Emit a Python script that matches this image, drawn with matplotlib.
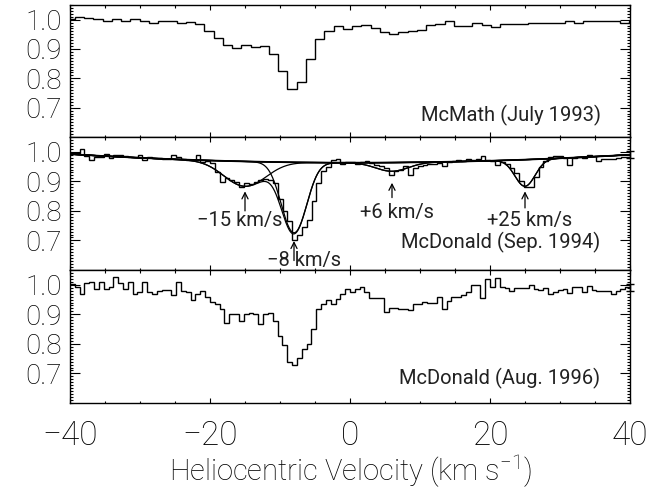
import numpy as np
import matplotlib.pyplot as plt
from matplotlib.ticker import MultipleLocator, FixedLocator

plt.rcParams['font.family'] = ['Roboto', 'DejaVu Sans']
plt.rcParams['font.weight'] = 'light'
plt.rcParams['axes.labelweight'] = 'light'
plt.rcParams['mathtext.default'] = 'regular'

# McMath, July 1993 (1.32 km/s bins)
mcmath_start = -40.61
mcmath_width = 1.32
mcmath_flux = [
    1.003, 1.008, 1.005, 1.002, 0.997, 1.003, 0.995, 1.001, 0.996, 0.988,
    0.994, 0.994, 0.988, 0.992, 0.985, 0.960, 0.936, 0.914, 0.902, 0.914,
    0.906, 0.910, 0.884, 0.824, 0.762, 0.786, 0.866, 0.934, 0.960, 0.977,
    0.969, 0.980, 0.982, 0.971, 0.958, 0.951, 0.958, 0.962, 0.966, 0.982,
    0.985, 0.994, 0.977, 0.977, 0.988, 0.982, 0.975, 0.986, 0.986, 0.986,
    0.988, 0.988, 0.988, 0.988, 0.994, 0.990, 0.997, 0.995, 0.994, 0.994,
    0.990, 0.997,
]

# McDonald, Sep. 1994 (0.69 km/s bins)
mcd94_start = -40.0
mcd94_width = 0.69
mcd94_flux = [
    0.996, 0.996, 1.009, 0.985, 0.971, 0.982, 0.982, 0.993, 0.979, 0.990,
    0.990, 0.987, 0.984, 0.984, 0.990, 0.971, 0.984, 0.979, 0.979, 0.975,
    0.975, 0.988, 0.982, 0.975, 0.971, 0.971, 0.990, 0.964, 0.968, 0.962,
    0.930, 0.898, 0.912, 0.905, 0.897, 0.882, 0.893, 0.890, 0.897, 0.905,
    0.908, 0.905, 0.893, 0.840, 0.800, 0.765, 0.703, 0.720, 0.745, 0.770,
    0.835, 0.895, 0.935, 0.950, 0.972, 0.975, 0.960, 0.964, 0.964, 0.960,
    0.964, 0.968, 0.962, 0.956, 0.953, 0.945, 0.923, 0.934, 0.937, 0.953,
    0.923, 0.945, 0.951, 0.956, 0.960, 0.960, 0.962, 0.953, 0.964, 0.968,
    0.971, 0.968, 0.975, 0.971, 0.975, 0.987, 0.971, 0.968, 0.956, 0.964,
    0.960, 0.945, 0.928, 0.900, 0.881, 0.881, 0.915, 0.950, 0.968, 0.982,
    0.987, 0.987, 0.979, 0.956, 0.979, 0.982, 0.979, 0.990, 0.987, 0.968,
    0.975, 0.975, 0.975, 0.979, 0.982, 0.984,
]

# McDonald, Aug. 1996 (0.69 km/s bins)
mcd96_start = -40.02
mcd96_width = 0.69
mcd96_flux = [
    1.002, 0.991, 0.970, 1.005, 1.011, 0.985, 1.011, 0.985, 0.993, 1.025,
    1.005, 0.985, 1.011, 0.968, 0.974, 1.011, 0.974, 0.968, 0.980, 0.983,
    0.983, 0.966, 1.011, 0.980, 0.974, 0.948, 0.970, 0.980, 0.957, 0.943,
    0.936, 0.917, 0.872, 0.900, 0.900, 0.877, 0.900, 0.906, 0.902, 0.866,
    0.902, 0.906, 0.877, 0.826, 0.795, 0.739, 0.727, 0.752, 0.784, 0.798,
    0.849, 0.917, 0.936, 0.948, 0.934, 0.951, 0.970, 0.985, 0.974,
    0.985, 0.991, 0.974, 0.955, 0.955, 0.955, 0.909, 0.923, 0.923, 0.917,
    0.917, 0.914, 0.934, 0.934, 0.943, 0.940, 0.940, 0.957, 0.917, 0.945,
    0.959, 0.959, 0.966, 0.974, 1.000, 0.998, 0.955, 1.019, 0.991, 1.023,
    0.993, 0.990, 0.980, 0.988, 0.988, 0.988, 1.000, 0.985, 0.982, 0.988,
    0.968, 0.977, 0.982, 0.985, 0.971, 0.993, 0.993, 0.974, 0.997, 0.982,
    0.980, 0.980, 0.980, 0.968, 0.980, 0.985, 0.993, 1.000,
]

# Gaussian fit to the 1994 spectrum: continuum polynomial and components
cont_coef = [0.963, -2.5e-5, 1.75e-5]
comp_vel = [-15, -8, 6, 25]
comp_tau = [0.091, 0.284, 0.031, 0.097]
comp_sigma = [2.93, 1.7, 2.3, 1.4]
comp_labels = ['\u221215 km/s', '\u22128 km/s', '+6 km/s', '+25 km/s']

panel_titles = ['McMath (July 1993)', 'McDonald (Sep. 1994)', 'McDonald (Aug. 1996)']

# representative error bar drawn at the right edge
err_center = 0.990
err_size = 0.012

fig = plt.figure(figsize=(6.68, 4.94), dpi=100)
W, H = 668.0, 494.0
left, right = 70 / W, 630 / W
panel_px = [(5, 137), (137, 270), (270, 403)]
axes = []
for top, bot in panel_px:
    ax = fig.add_axes([left, 1 - bot / H, right - left, (bot - top) / H])
    axes.append(ax)


def edges(start, width, n):
    return start + width * np.arange(n + 1)


def style(ax, last):
    ax.set_xlim(-40, 40)
    ax.set_ylim(0.6, 1.05)
    ax.xaxis.set_major_locator(MultipleLocator(20))
    ax.xaxis.set_minor_locator(MultipleLocator(5))
    ax.yaxis.set_major_locator(FixedLocator([0.7, 0.8, 0.9, 1.0]))
    ax.yaxis.set_minor_locator(MultipleLocator(0.01))
    ax.tick_params(which='both', direction='in', top=True, right=True,
                   width=0.8, color='black')
    ax.tick_params(axis='x', which='major', length=3.6, labelsize=24, pad=12)
    ax.tick_params(axis='x', which='minor', length=1.8)
    ax.tick_params(axis='y', which='major', length=7, labelsize=20, pad=6)
    ax.tick_params(axis='y', which='minor', length=2)
    ax.yaxis.set_major_formatter(plt.FormatStrFormatter('%.1f'))
    if not last:
        ax.tick_params(axis='x', labelbottom=False)
    for s in ax.spines.values():
        s.set_linewidth(1.0)


ax1, ax2, ax3 = axes

ax1.stairs(mcmath_flux, edges(mcmath_start, mcmath_width, len(mcmath_flux)),
           baseline=None, color='black', lw=1.0)
ax2.stairs(mcd94_flux, edges(mcd94_start, mcd94_width, len(mcd94_flux)),
           baseline=None, color='black', lw=1.0)
ax3.stairs(mcd96_flux, edges(mcd96_start, mcd96_width, len(mcd96_flux)),
           baseline=None, color='black', lw=1.0)

# fitted profiles
v = np.linspace(-40, 40, 1200)
cont = cont_coef[0] + cont_coef[1] * v + cont_coef[2] * v ** 2
taus = [t * np.exp(-(v - c) ** 2 / (2 * s ** 2))
        for c, t, s in zip(comp_vel, comp_tau, comp_sigma)]
ax2.plot(v, cont, color='black', lw=1.3)
for tau in taus:
    ax2.plot(v, cont * np.exp(-tau), color='black', lw=0.9)
ax2.plot(v, cont * np.exp(-np.sum(taus, axis=0)), color='black', lw=0.9)

# component labels with arrows
label_pos = [(-15.7, 0.748), (-6.6, 0.615), (6.7, 0.777), (25.7, 0.748)]
arrow_span = [(0.800, 0.866), (0.632, 0.698), (0.845, 0.895), (0.810, 0.866)]
for c, lab, (tx, ty), (y0, y1) in zip(comp_vel, comp_labels, label_pos, arrow_span):
    ax2.text(tx, ty, lab, ha='center', va='baseline', fontsize=14.5,
             fontweight='normal', color='#222222')
    ax2.annotate('', xy=(c, y1), xytext=(c, y0),
                 arrowprops=dict(arrowstyle='->', lw=0.9, color='black',
                                 shrinkA=0, shrinkB=0, mutation_scale=11))

for ax in (ax2, ax3):
    ax.errorbar([40], [err_center], yerr=[err_size], color='black', lw=1.0,
                capsize=3, capthick=1.0, clip_on=False)

title_y = [0.655, 0.675, 0.663]
for ax, t, ty in zip(axes, panel_titles, title_y):
    ax.text(35.8, ty, t, ha='right', va='baseline', fontsize=14.5,
            fontweight='normal', color='#222222')

for i, ax in enumerate(axes):
    style(ax, i == 2)

ax3.set_xlabel('Heliocentric Velocity (km s$^{-1}$)', fontsize=21, labelpad=1)

fig.savefig('out.png', dpi=100)
